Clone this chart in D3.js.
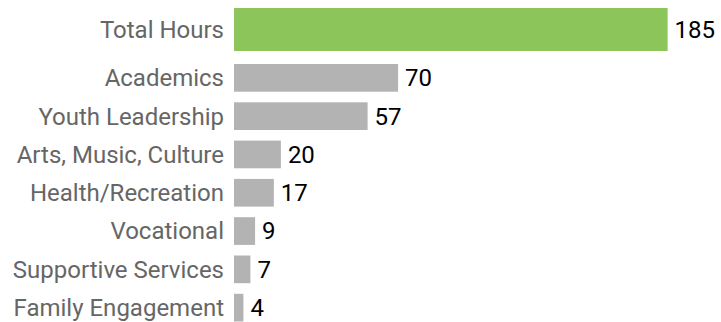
<!DOCTYPE html>
<html>
<head>
<meta charset="utf-8">
<script src="https://cdn.jsdelivr.net/npm/d3@7"></script>
<style>
  html, body { margin: 0; padding: 0; background: #fff; }
  svg { display: block; }
  text { font-family: Roboto, "Liberation Sans", Arial, sans-serif; font-size: 24px; }
  .label { fill: #666666; }
  .value { fill: #000000; }
</style>
</head>
<body>
<svg id="chart" width="721" height="322"></svg>
<script>
var totalLabel = ["Total Hours"];
var totalValue = [185];
var categories = ["Academics", "Youth Leadership", "Arts, Music, Culture", "Health/Recreation",
                  "Vocational", "Supportive Services", "Family Engagement"];
var hours = [70, 57, 20, 17, 9, 7, 4];

var svg = d3.select("#chart");

var x = d3.scaleLinear().domain([0, 185]).range([234, 667.6]);

// top row is taller than the rest
var yTotal = d3.scaleBand().domain(totalLabel).range([8, 51]);
var y = d3.scaleBand().domain(categories).range([64, 321.5]).paddingInner(0.277).paddingOuter(0);

function drawRows(labels, values, yScale, color) {
  var g = svg.append("g");
  labels.forEach(function(name, i) {
    var cy = yScale(name) + yScale.bandwidth() / 2;
    g.append("rect")
      .attr("x", x(0))
      .attr("y", yScale(name))
      .attr("width", x(values[i]) - x(0))
      .attr("height", yScale.bandwidth())
      .attr("fill", color);
    g.append("text")
      .attr("class", "label")
      .attr("x", 224)
      .attr("y", cy)
      .attr("dy", "0.35em")
      .attr("text-anchor", "end")
      .text(name);
    g.append("text")
      .attr("class", "value")
      .attr("x", x(values[i]) + 7)
      .attr("y", cy)
      .attr("dy", "0.35em")
      .text(values[i]);
  });
}

drawRows(totalLabel, totalValue, yTotal, "#8cc65a");
drawRows(categories, hours, y, "#b3b3b3");
</script>
</body>
</html>
